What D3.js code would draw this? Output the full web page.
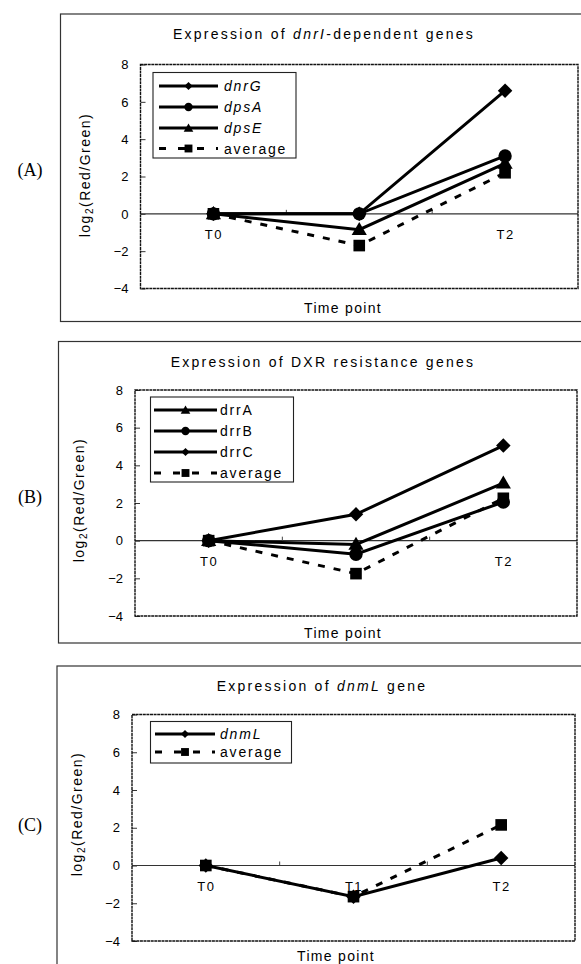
<!DOCTYPE html>
<html><head><meta charset="utf-8">
<script src="https://cdn.jsdelivr.net/npm/d3@7"></script>
<style>
html,body{margin:0;padding:0;background:#fff;}
svg{display:block;}
text{font-family:"Liberation Sans",Arial,sans-serif;fill:#000;}
</style></head>
<body>
<svg id="c" width="581" height="964"></svg>
<script>
// ---- data ----
const timePoints = ["T0","T1","T2"];
const yTicks = [-4,-2,0,2,4,6,8];

// Panel A: dnrI-dependent genes
const dnrG = [0, 0, 6.6];
const dpsA = [0, 0, 3.1];
const dpsE = [0, -0.85, 2.7];
const averageA = [0, -1.7, 2.2];

// Panel B: DXR resistance genes
const drrA = [0, -0.2, 3.05];
const drrB = [0, -0.72, 2.05];
const drrC = [0, 1.4, 5.05];
const averageB = [0, -1.75, 2.25];

// Panel C: dnmL gene
const dnmL = [0, -1.65, 0.4];
const averageC = [0, -1.65, 2.15];

// ---- panels ----
const panels = [
  {letter:"(A)", title:[["Expression of ",false],["dnrI",true],["-dependent genes",false]],
   series:[{name:"dnrG",values:dnrG,sym:"diamond",italic:true},
           {name:"dpsA",values:dpsA,sym:"circle",italic:true},
           {name:"dpsE",values:dpsE,sym:"triangle",italic:true},
           {name:"average",values:averageA,sym:"square",dash:true}],
   xLabels:["T0","","T2"],
   L:{frame:[60.5,14,321.5], plot:[140.5,578,64.5,288.5], titleY:38.5, titleX:324, ylabX:90, ylabY:175,
      xlabX:343, xlabY:313, leg:[153,72.5,143,85.5], rows:[86,107,128,148.5], lx:[159,218], tx:224, letterY:176}},
  {letter:"(B)", title:[["Expression of DXR resistance genes",false]],
   series:[{name:"drrA",values:drrA,sym:"triangle"},
           {name:"drrB",values:drrB,sym:"circle"},
           {name:"drrC",values:drrC,sym:"diamond"},
           {name:"average",values:averageB,sym:"square",dash:true}],
   xLabels:["T0","","T2"],
   L:{frame:[58.5,341.5,643], plot:[135,577,390,616], titleY:367, titleX:323, ylabX:84, ylabY:500,
      xlabX:343, xlabY:638, leg:[150.5,397,143,85], rows:[410,431,452,473], lx:[154,217], tx:220, letterY:503}},
  {letter:"(C)", title:[["Expression of ",false],["dnmL",true],[" gene",false]],
   series:[{name:"dnmL",values:dnmL,sym:"diamond",italic:true},
           {name:"average",values:averageC,sym:"square",dash:true}],
   xLabels:["T0","T1","T2"],
   L:{frame:[57,666,990], plot:[132,575,714.5,941], titleY:691, titleX:322, ylabX:82, ylabY:814,
      xlabX:336, xlabY:961, leg:[150.5,721.5,141,41.5], rows:[734,752], lx:[155,215], tx:220, letterY:831}}
];

const svg = d3.select("#c");

function symPath(sym, big){
  const s = big ? {diamond:105, circle:140, triangle:100, square:135}
                : {diamond:34, circle:55, triangle:40, square:62};
  const type = {diamond:d3.symbolSquare, circle:d3.symbolCircle, triangle:d3.symbolTriangle, square:d3.symbolSquare}[sym];
  return d3.symbol().type(type).size(s[sym])();
}
function symTransform(sym, x, y){
  if (sym==="diamond") return `translate(${x},${y}) rotate(45)`;
  if (sym==="triangle") return `translate(${x},${y+1})`;
  return `translate(${x},${y})`;
}

panels.forEach(p => {
  const L = p.L;
  const g = svg.append("g");
  // frame
  g.append("rect").attr("x",L.frame[0]).attr("y",L.frame[1])
    .attr("width",620-L.frame[0]).attr("height",L.frame[2]-L.frame[1])
    .attr("fill","none").attr("stroke","#333").attr("stroke-width",1.2);
  // panel letter
  g.append("text").attr("x",30).attr("y",L.letterY).attr("text-anchor","middle")
    .style("font-family","'Liberation Serif','Times New Roman',serif").style("font-size","18px")
    .text(p.letter);
  // title
  const t = g.append("text").attr("x",L.titleX).attr("y",L.titleY).attr("text-anchor","middle")
    .style("font-size","14px").style("letter-spacing","2.25px");
  p.title.forEach(([s,it]) => t.append("tspan").style("font-style",it?"italic":"normal").text(s));

  const [px0,px1,py0,py1] = L.plot;
  const x = d3.scalePoint().domain(timePoints).range([px0,px1]).padding(0.5);
  const y = d3.scaleLinear().domain([-4,8]).range([py1,py0]);

  // y axis labels with inside ticks
  const yAxis = d3.axisLeft(y).tickValues(yTicks).tickSize(-5).tickPadding(12);
  const ya = g.append("g").attr("transform",`translate(${px0},0)`).call(yAxis);
  ya.select(".domain").remove();
  ya.selectAll(".tick line").attr("stroke","#333");
  ya.selectAll(".tick text").style("font-size","13px").style("font-family","'Liberation Sans',Arial,sans-serif").attr("fill","#000");

  // zero (category) axis
  const step = x.step();
  const xa = d3.axisBottom(x).tickSize(0).tickPadding(16).tickFormat((d,i)=>p.xLabels[i]);
  const xg = g.append("g").attr("transform",`translate(0,${y(0)})`).call(xa);
  xg.select(".domain").attr("d",`M${px0},0H${px1}`).attr("stroke","#333").attr("stroke-width",1.1);
  xg.selectAll(".tick text").style("font-size","13px").style("letter-spacing","1.5px")
    .style("font-family","'Liberation Sans',Arial,sans-serif").attr("fill","#000");
  // category boundary ticks
  [1,2].forEach(k => g.append("line").attr("x1",px0+k*step).attr("x2",px0+k*step)
      .attr("y1",y(0)-4).attr("y2",y(0)).attr("stroke","#444"));

  // plot border
  g.append("rect").attr("x",px0).attr("y",py0).attr("width",px1-px0).attr("height",py1-py0)
    .attr("fill","none").attr("stroke","#111").attr("stroke-width",1.4).attr("stroke-dasharray","3,0.6");

  // axis titles
  const yl = g.append("text").attr("transform",`translate(${L.ylabX},${L.ylabY}) rotate(-90)`)
    .attr("text-anchor","middle").style("font-size","14px").style("letter-spacing","1.5px");
  yl.append("tspan").text("log");
  yl.append("tspan").attr("dy",3).style("font-size","10px").text("2");
  yl.append("tspan").attr("dy",-3).text("(Red/Green)");
  g.append("text").attr("x",L.xlabX).attr("y",L.xlabY).attr("text-anchor","middle")
    .style("font-size","14px").style("letter-spacing","1.3px").text("Time point");

  // series
  const line = d3.line().x((d,i)=>x(timePoints[i])).y(d=>y(d));
  p.series.forEach(s => {
    g.append("path").datum(s.values).attr("d",line).attr("fill","none").attr("stroke","#000")
      .attr("stroke-width",3).attr("stroke-dasharray",s.dash?"7,9":null);
  });
  p.series.forEach(s => {
    g.selectAll(null).data(s.values).join("path")
      .attr("d",symPath(s.sym,true))
      .attr("transform",(d,i)=>symTransform(s.sym,x(timePoints[i]),y(d)))
      .attr("fill","#000");
  });

  // legend
  const [lx,ly,lw,lh] = L.leg;
  g.append("rect").attr("x",lx).attr("y",ly).attr("width",lw).attr("height",lh)
    .attr("fill","#fff").attr("stroke","#222").attr("stroke-width",1.1);
  p.series.forEach((s,i) => {
    const ry = L.rows[i];
    g.append("line").attr("x1",L.lx[0]).attr("x2",L.lx[1]).attr("y1",ry).attr("y2",ry)
      .attr("stroke","#000").attr("stroke-width",3).attr("stroke-dasharray",s.dash?"7,12":null);
    const mx = (L.lx[0]+L.lx[1])/2;
    g.append("path").attr("d",symPath(s.sym,false)).attr("transform",symTransform(s.sym,mx,ry)).attr("fill","#000");
    g.append("text").attr("x",L.tx).attr("y",ry+5).style("font-size","14px").style("letter-spacing","1.8px")
      .style("font-style",s.italic?"italic":"normal").text(s.name);
  });
});
</script>
</body></html>
